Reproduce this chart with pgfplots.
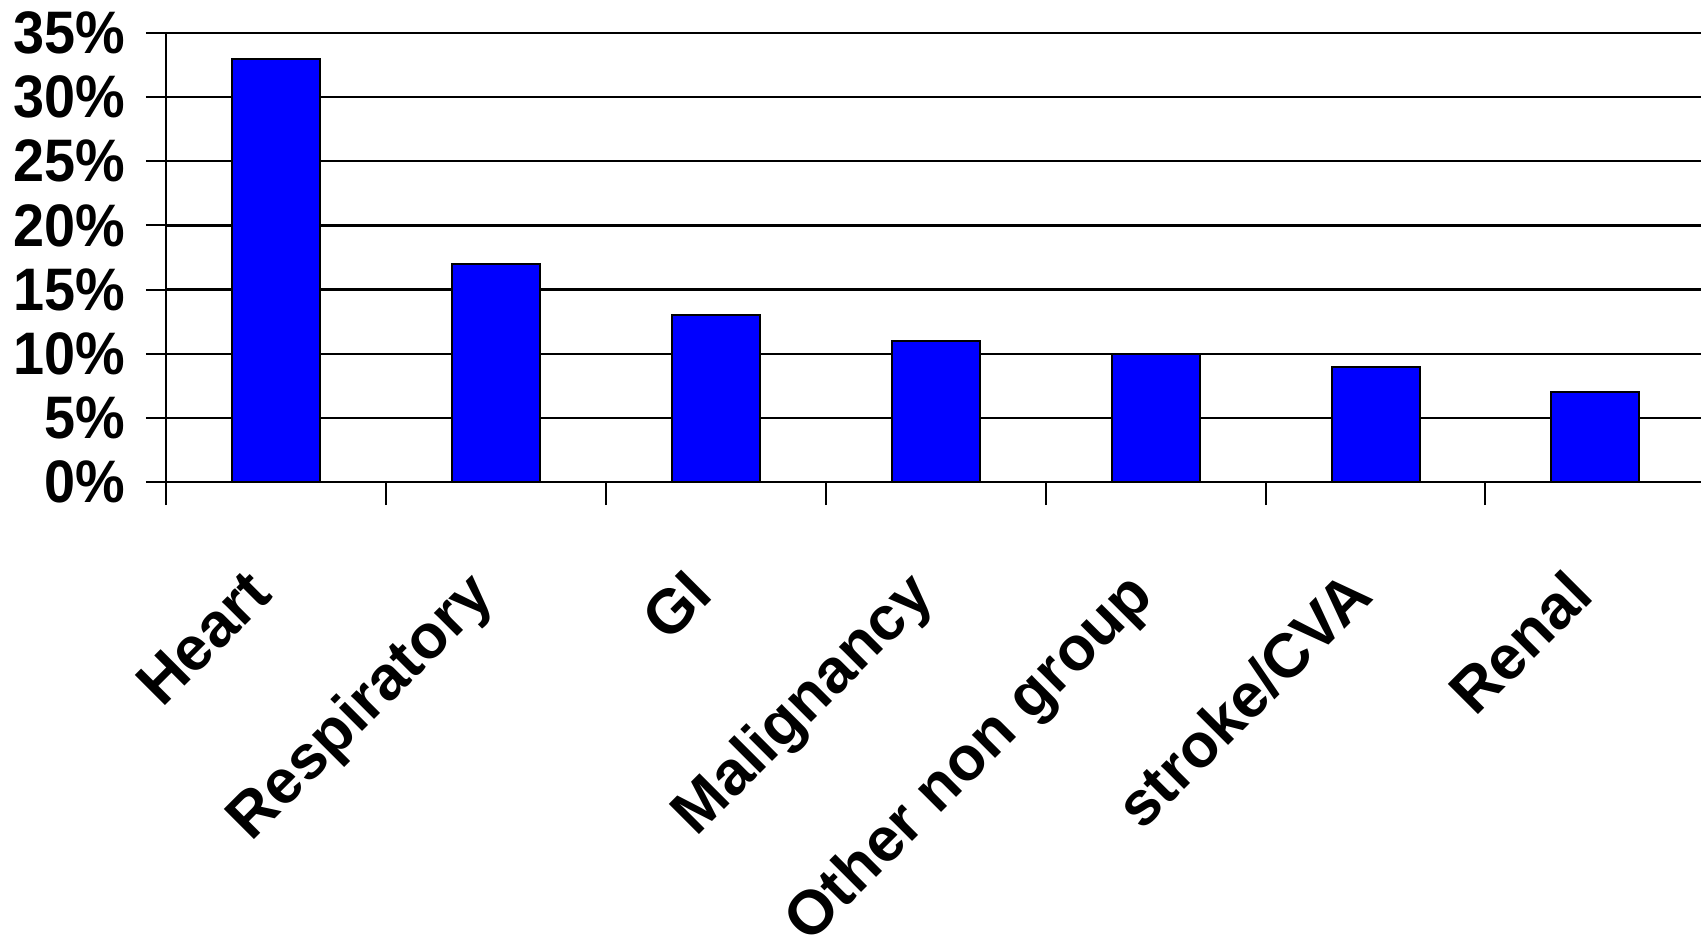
\documentclass[border=0pt]{standalone}
\usepackage{pgfplots}
\pgfplotsset{compat=1.18}
\usepackage{fontspec}
\setmainfont{Liberation Sans}
\begin{document}
\begin{tikzpicture}
\begin{axis}[
  at={(0,0)}, anchor=south west,
  scale only axis, width=767.5pt, height=224.5pt,
  xmin=-0.5, xmax=6.48, ymin=0, ymax=35,
  axis lines*=left,
  axis line style={black, line width=1.1pt},
  ymajorgrids, grid style={black, line width=1.1pt},
  tick align=outside,
  major tick length=10pt, minor tick length=11.5pt,
  tick style={black, line width=1pt},
  ytick={0,5,...,35},
  yticklabels={0\%,5\%,10\%,15\%,20\%,25\%,30\%,35\%},
  xtick={0,1,2,3,4,5,6},
  minor xtick={-0.5,0.5,1.5,2.5,3.5,4.5,5.5,6.5},
  major x tick style={draw=none},
  xticklabels={Heart,Respiratory,GI,Malignancy,Other non group,stroke/CVA,Renal},
  xticklabel style={font=\fontsize{31}{32}\selectfont\bfseries, xshift=-16pt, yshift=-32pt, rotate=45, anchor=north east, inner sep=0pt},
  yticklabel style={font=\fontsize{30}{31}\selectfont\bfseries, anchor=east, inner sep=0pt, xshift=-10pt, xscale=0.93},
  clip=false,
]
\addplot[ybar, bar width=0.4, fill=blue, draw=black, line width=1pt]
  coordinates {(0,33) (1,17) (2,13) (3,11) (4,10) (5,9) (6,7)};
\end{axis}
\pgfresetboundingbox
\useasboundingbox (-83pt,-234pt) rectangle (767.5pt,241pt);
\end{tikzpicture}
\end{document}
